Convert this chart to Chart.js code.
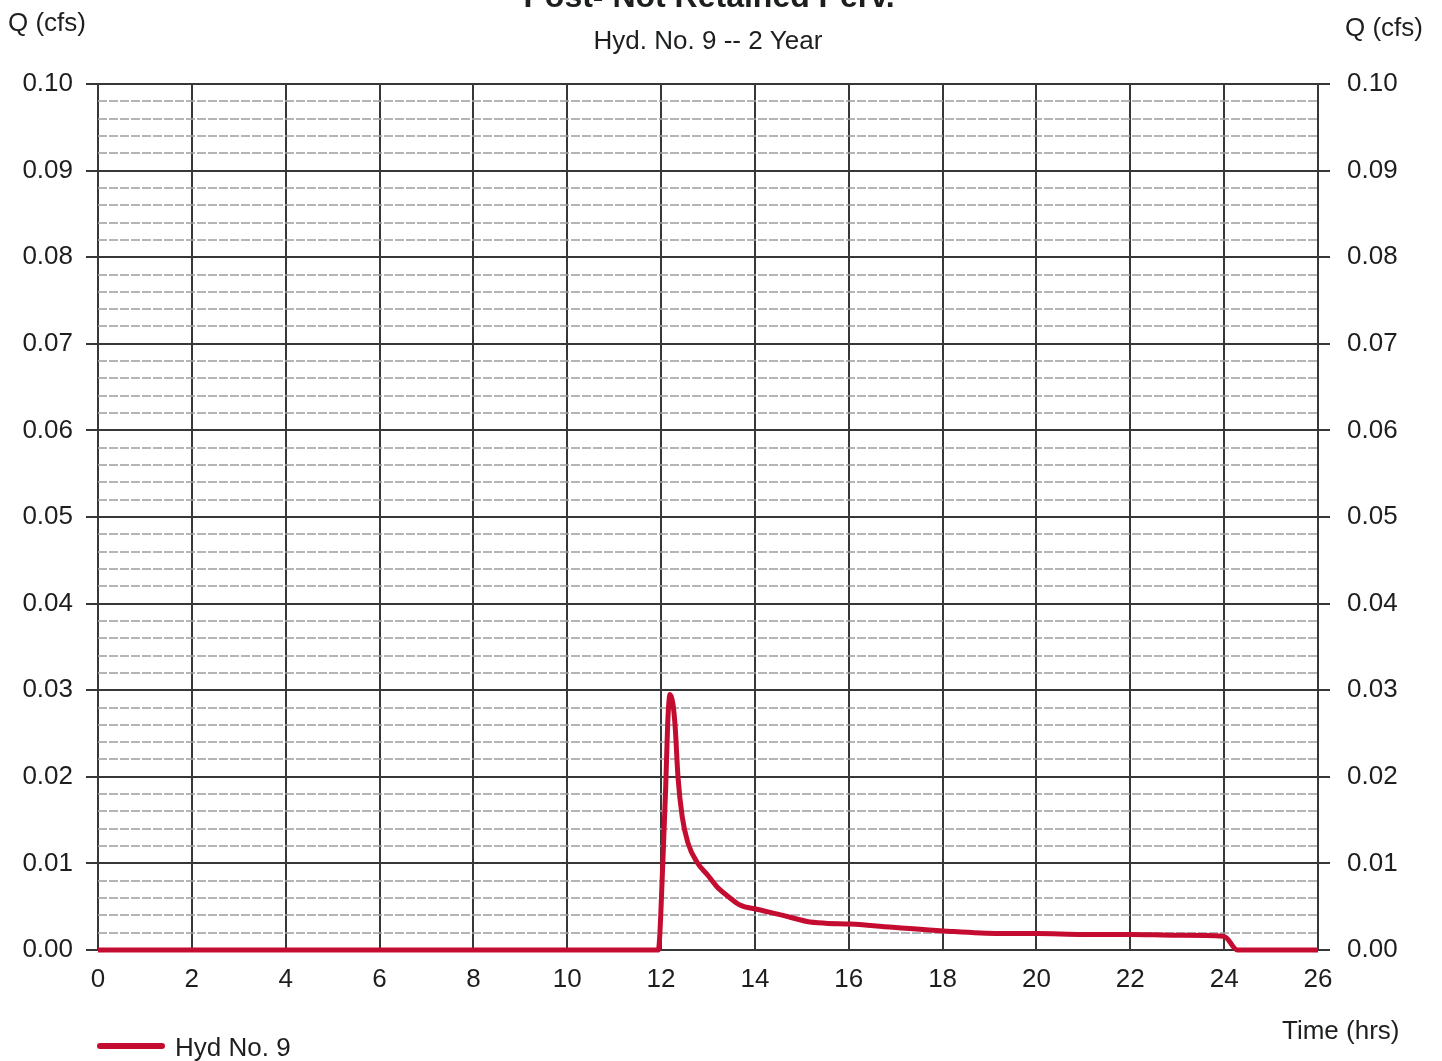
<!DOCTYPE html>
<html>
<head>
<meta charset="utf-8">
<script src="https://cdn.jsdelivr.net/npm/chart.js@4.4.0/dist/chart.umd.min.js"></script>
<style>
  html, body { margin: 0; padding: 0; background: #ffffff; overflow: hidden; }
  #wrap { position: relative; width: 1442px; height: 1061px; }
</style>
</head>
<body>
<div id="wrap"><canvas id="c" width="1442" height="1061"></canvas></div>
<script>
// ---- Data ----
const chartTitle = "Post- Not Retained Perv.";
const chartSubtitle = "Hyd. No. 9 -- 2 Year";
const yAxisLabel = "Q (cfs)";
const xAxisLabel = "Time (hrs)";
const seriesName = "Hyd No. 9";

const timesHrs = [0, 2, 4, 6, 8, 10, 11.94, 12.04, 12.10, 12.14, 12.19, 12.25, 12.30, 12.36, 12.45, 12.57, 12.77, 13.0, 13.19, 13.45, 13.68, 14.04, 14.6, 15.11, 15.5, 16.03, 17.0, 18.01, 19.22, 20.01, 21.0, 21.99, 23.0, 23.98, 24.05, 24.28, 25, 26];
const flowCfs  = [0, 0, 0, 0, 0, 0, 0, 0.0104, 0.0190, 0.0260, 0.0295, 0.0285, 0.0258, 0.0200, 0.0154, 0.0124, 0.0101, 0.0086, 0.0073, 0.0061, 0.0052, 0.0047, 0.0040, 0.0033, 0.0031, 0.0030, 0.0026, 0.0022, 0.0019, 0.0019, 0.0018, 0.0018, 0.0017, 0.0016, 0.0014, 0, 0, 0];

const xMin = 0, xMax = 26, xStep = 2;
const yMin = 0, yMax = 0.10, yMajorStep = 0.01, yMinorStep = 0.002;

const points = timesHrs.map((t, i) => ({ x: t, y: flowCfs[i] }));

const FONT = "'Liberation Sans', Arial, sans-serif";
const TEXT = "#1c1f1e";
const DARK = "#363838";
const RED = "#c40c30";

const isMajor = v => Math.abs(v / yMajorStep - Math.round(v / yMajorStep)) < 1e-6;

const textPlugin = {
  id: 'texts',
  afterDraw(chart) {
    const ctx = chart.ctx;
    ctx.save();
    ctx.fillStyle = TEXT;
    ctx.textBaseline = 'alphabetic';
    // title (cut off at top in the reference)
    ctx.font = "bold 32px " + FONT;
    ctx.textAlign = 'center';
    ctx.fillText(chartTitle, 709, 7);
    ctx.font = "26px " + FONT;
    ctx.fillText(chartSubtitle, 708, 49);
    ctx.textAlign = 'left';
    ctx.fillText(yAxisLabel, 8, 31);
    ctx.fillText(yAxisLabel, 1345, 36);
    ctx.fillText(xAxisLabel, 1282, 1039);
    // legend
    ctx.strokeStyle = RED;
    ctx.lineWidth = 6;
    ctx.lineCap = 'round';
    ctx.beginPath();
    ctx.moveTo(100, 1046);
    ctx.lineTo(162, 1046);
    ctx.stroke();
    ctx.fillText(seriesName, 175, 1056);
    ctx.restore();
  }
};

new Chart(document.getElementById('c'), {
  type: 'line',
  data: {
    datasets: [{
      label: seriesName,
      data: points,
      borderColor: RED,
      backgroundColor: RED,
      borderWidth: 5,
      pointRadius: 0,
      fill: false,
      cubicInterpolationMode: 'monotone',
      clip: 4
    }]
  },
  options: {
    responsive: false,
    animation: false,
    devicePixelRatio: 1,
    layout: { padding: { top: 84, bottom: 71, left: 0, right: 0 } },
    plugins: {
      legend: { display: false },
      title: { display: false },
      tooltip: { enabled: false }
    },
    scales: {
      x: {
        type: 'linear',
        min: xMin, max: xMax,
        ticks: {
          stepSize: xStep,
          color: TEXT,
          font: { size: 26, family: FONT },
          padding: 14,
          maxRotation: 0,
          autoSkip: false
        },
        grid: { color: DARK, lineWidth: 2, drawTicks: false },
        border: { display: false },
        afterFit(s) { s.height = 40; }
      },
      yMinor: {
        type: 'linear',
        position: 'left',
        min: yMin, max: yMax,
        ticks: { display: false, stepSize: yMinorStep, autoSkip: false },
        grid: {
          color: ctx => (ctx.tick && isMajor(ctx.tick.value)) ? 'rgba(0,0,0,0)' : 'rgba(160,162,165,0.8)',
          lineWidth: 2,
          drawTicks: false
        },
        border: { display: false, dash: [9, 2] },
        afterFit(s) { s.width = 0; }
      },
      y: {
        type: 'linear',
        position: 'left',
        min: yMin, max: yMax,
        ticks: {
          stepSize: yMajorStep,
          color: TEXT,
          font: { size: 26, family: FONT },
          padding: 13,
          autoSkip: false,
          callback: v => Number(v).toFixed(2)
        },
        grid: { color: DARK, lineWidth: 2, tickLength: 12, tickColor: DARK },
        border: { display: false },
        afterFit(s) { s.width = 98; }
      },
      y2: {
        type: 'linear',
        position: 'right',
        min: yMin, max: yMax,
        ticks: {
          stepSize: yMajorStep,
          color: TEXT,
          font: { size: 26, family: FONT },
          padding: 17,
          autoSkip: false,
          callback: v => Number(v).toFixed(2)
        },
        grid: { drawOnChartArea: false, color: DARK, lineWidth: 2, tickLength: 12, tickColor: DARK },
        border: { display: false },
        afterFit(s) { s.width = 124; }
      }
    }
  },
  plugins: [textPlugin]
});
</script>
</body>
</html>
